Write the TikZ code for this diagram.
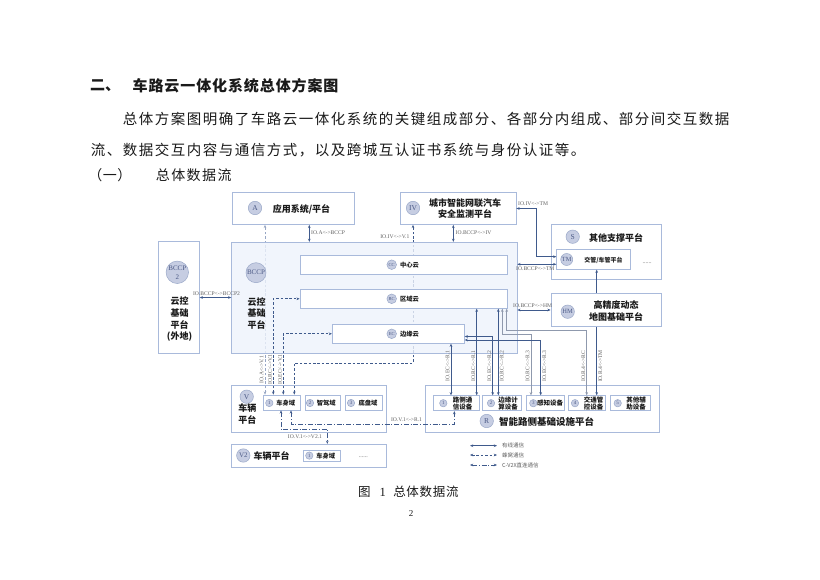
\documentclass[tikz,border=0pt]{standalone}
\usepackage{fontspec}
\setmainfont{Liberation Serif}
\newfontfamily\cjk{Noto Sans CJK SC}
\usetikzlibrary{arrows.meta}
\definecolor{ln}{HTML}{3F5A8C}
\definecolor{bd}{HTML}{A9BADB}
\definecolor{cf}{HTML}{C6CDE2}
\definecolor{cb}{HTML}{9AA8C8}
\definecolor{ct}{HTML}{4B5985}
\definecolor{bf}{HTML}{EEF3FC}
\definecolor{lb}{HTML}{606060}
\definecolor{gw}{HTML}{8F99AD}
\definecolor{lt}{HTML}{97A6C4}
\definecolor{tx}{HTML}{1A1A1A}
\makeatletter
\newcommand\pitched[2]{\@tfor\pc@:=#2\do{\makebox[#1]{\pc@}}}
\makeatother
\begin{document}
\begin{tikzpicture}[x=1pt,y=-1pt,
  >={Stealth[length=3.2pt,width=2.6pt]},
  box/.style={draw=bd, line width=0.7pt, fill=white, inner sep=0pt, rectangle},
  bigc/.style={circle, draw=cb, fill=cf, line width=0.5pt, inner sep=0pt, minimum size=13.4pt, text=ct, font=\fontsize{7.5}{8}\selectfont},
  midc/.style={bigc, minimum size=20pt, font=\fontsize{7}{7.5}\selectfont, align=center},
  smc/.style={bigc, minimum size=9.6pt, font=\fontsize{4.6}{5}\selectfont},
  numc/.style={bigc, minimum size=7.4pt, font=\fontsize{5}{5}\selectfont},
  ttl/.style={font=\cjk\bfseries\fontsize{9}{11.5}\selectfont, align=center, inner sep=0pt, text=tx},
  sub/.style={font=\cjk\bfseries\fontsize{6.3}{7}\selectfont, align=center, inner sep=0pt, text=tx},
  dev/.style={font=\cjk\bfseries\fontsize{6.5}{7}\selectfont, align=center, inner sep=0pt, text=tx},
  lab/.style={font=\fontsize{5.6}{6}\selectfont, text=lb, inner sep=0pt},
  wire/.style={draw=ln, line width=0.6pt, <->},
  cell/.style={wire, dash pattern=on 2.6pt off 1.8pt},
  vtx/.style={wire, dash pattern=on 5pt off 1.8pt on 1pt off 1.8pt},
  gwire/.style={wire, draw=gw, line width=0.9pt},
  dots/.style={font=\fontsize{6}{6}\selectfont, text=lb, inner sep=0pt},
  body/.style={font=\cjk\fontsize{14.5}{15}\selectfont, text=tx, inner sep=0pt, anchor=west}
]
\fill[white] (0,0) rectangle (820,580);
\useasboundingbox (0,0) rectangle (820,580);

% ---------- page text ----------
\node[body, font=\cjk\bfseries\fontsize{15}{15}\selectfont] (h1) at (90,86) {二、};
\node[body, font=\cjk\bfseries\fontsize{15}{15}\selectfont] (h2) at (132,86) {\pitched{15.9pt}{车路云一体化系统总体方案图}};
\node[body] (p1) at (122,119) {\pitched{16pt}{总体方案图明确了车路云一体化系统的关键组成部分、各部分内组成、部分间交互数据}};
\node[body] (p2) at (90,150) {\pitched{16pt}{流、数据交互内容与通信方式，以及跨城互认证书系统与身份认证等。}};
\node[body, font=\cjk\fontsize{14}{14}\selectfont] (s1) at (88,175) {\pitched{14.5pt}{（一）}};
\node[body, font=\cjk\fontsize{14}{14}\selectfont] (s2) at (155,175) {\pitched{15.4pt}{总体数据流}};
\node[body, font=\cjk\fontsize{12.5}{13}\selectfont] (cap) at (358,492) {图\hspace{9pt}{\rmfamily 1}\hspace{7pt}\pitched{13.2pt}{总体数据流}};
\node[font=\fontsize{9}{9}\selectfont, text=tx, inner sep=0pt] (pg) at (411,514) {2};

% ---------- column coordinates ----------
\coordinate (x265) at (265,0);
\coordinate (x273) at (273.3,0);
\coordinate (x283) at (283.3,0);
\coordinate (x294) at (294.3,0);
\coordinate (x281) at (281,0);
\coordinate (x291) at (291,0);
\coordinate (x309) at (309.3,0);
\coordinate (x327) at (327.3,0);
\coordinate (x413) at (413,0);
\coordinate (x451) at (451,0);
\coordinate (x453) at (453.3,0);
\coordinate (x454) at (454.3,0);
\coordinate (x477) at (476.7,0);
\coordinate (x493) at (492.7,0);
\coordinate (x498) at (498.3,0);
\coordinate (x502) at (502.3,0);
\coordinate (x507) at (506.7,0);
\coordinate (x531) at (531,0);
\coordinate (x541) at (540.7,0);
\coordinate (x587) at (586.7,0);
\coordinate (x597) at (596.7,0);

% ---------- top boxes ----------
\node[box, minimum width=122pt, minimum height=32pt] (A) at (293,208.5) {};
\node[box, minimum width=116pt, minimum height=32pt] (IV) at (458,208.5) {};

% ---------- vehicle boxes ----------
\node[box, minimum width=154.3pt, minimum height=47.3pt] (V) at (308.8,408.7) {};
\node[box, minimum width=36.7pt, minimum height=15pt] (Vd1) at (281.7,402.5) {};
\node[box, minimum width=35.7pt, minimum height=15pt] (Vd2) at (322.8,402.5) {};
\node[box, minimum width=37.7pt, minimum height=15pt] (Vd3) at (363.8,402.5) {};
\node[box, minimum width=154.3pt, minimum height=23pt] (V2) at (308.8,455.8) {};
\node[box, minimum width=36.7pt, minimum height=11pt] (V2d1) at (321.7,455.5) {};

% ---------- lines under the cloud platform ----------
\draw[cell, draw=lt] (x265 |- Vd1.north) -- (x265 |- A.south);
\draw[cell] (x294 |- Vd1.north) -- (294.3,363) -- (413,363) -- (x413 |- IV.south);

% ---------- cloud platform ----------
\node[box, fill=bf, fill opacity=0.8, minimum width=285.3pt, minimum height=111pt] (BCCP) at (374.3,297.8) {};
\node[box, minimum width=207.7pt, minimum height=19.3pt] (CC) at (403.8,264.7) {};
\node[box, minimum width=207.7pt, minimum height=19pt] (RC) at (403.8,298.8) {};
\node[box, minimum width=132pt, minimum height=19pt] (EC) at (398.3,333.8) {};
\node[box, minimum width=41pt, minimum height=111.6pt] (BCCP2) at (178.8,297.5) {};

% ---------- support platforms ----------
\node[box, minimum width=110pt, minimum height=55pt] (S) at (606,251.5) {};
\node[box, minimum width=74pt, minimum height=20pt] (TM) at (593.7,259.3) {};

% ---------- roadside platform ----------
\node[box, minimum width=234.3pt, minimum height=47.3pt] (R) at (542.2,408.7) {};
\node[box, minimum width=45.7pt, minimum height=15pt] (R1) at (456.1,403.2) {};
\node[box, minimum width=39pt, minimum height=15pt] (R2) at (502.2,403.2) {};
\node[box, minimum width=37.3pt, minimum height=15pt] (R3) at (545.3,403.2) {};
\node[box, minimum width=37.4pt, minimum height=15pt] (R4) at (587,403.2) {};
\node[box, minimum width=40pt, minimum height=15pt] (R5) at (630.7,403.2) {};

\draw[wire] (x597 |- R4.north) -- (x597 |- TM.south);
\node[box, minimum width=110.7pt, minimum height=33.4pt] (HM) at (606.3,310) {};

% ---------- circles and titles ----------
\node[bigc] (Ac) at (255,208) {A};
\node[ttl] (At) at (301.5,209) {应用系统/平台};
\node[bigc] (IVc) at (413,208) {IV};
\node[ttl] (IVt) at (465,208.5) {城市智能网联汽车\\安全监测平台};
\node[bigc] (Sc) at (572.7,236.7) {S};
\node[ttl] (St) at (616,237.5) {其他支撑平台};
\node[bigc, minimum size=12pt, font=\fontsize{6.3}{6.5}\selectfont] (TMc) at (566.7,259.5) {TM};
\node[sub, font=\cjk\bfseries\fontsize{6}{6.5}\selectfont] (TMt) at (603.5,260) {交管/车管平台};
\node[dots] (Sd) at (647,263) {......};
\node[bigc, font=\fontsize{6.5}{7}\selectfont] (HMc) at (567.7,311.7) {HM};
\node[ttl] (HMt) at (616,311) {高精度动态\\地图基础平台};

\node[midc] (BCCPc) at (256,272.7) {BCCP};
\node[ttl, font=\cjk\bfseries\fontsize{9}{11.7}\selectfont] (BCCPt) at (256.7,313.3) {云控\\基础\\平台};
\node[midc, font=\fontsize{7}{9}\selectfont] (BCCP2c) at (177.3,272.3) {BCCP\\2};
\node[ttl, font=\cjk\bfseries\fontsize{9}{11.7}\selectfont] (BCCP2t) at (179.5,319.2) {云控\\基础\\平台\\(外地)};

\node[smc] (CCc) at (391.7,264.7) {CC};
\node[sub] (CCt) at (409.5,264.7) {中心云};
\node[smc] (RCc) at (391.7,298.8) {RC};
\node[sub] (RCt) at (409.5,298.8) {区域云};
\node[smc] (ECc) at (391.7,333.8) {EC};
\node[sub] (ECt) at (409.5,333.8) {边缘云};

\node[bigc] (Vc) at (246.7,396.7) {V};
\node[ttl] (Vt) at (247.3,414.2) {车辆\\平台};
\node[numc] (Vd1c) at (269.3,403) {1};
\node[sub] (Vd1t) at (285.8,403) {车身域};
\node[numc] (Vd2c) at (310,403) {2};
\node[sub] (Vd2t) at (326.3,403) {智驾域};
\node[numc] (Vd3c) at (351,403) {3};
\node[sub] (Vd3t) at (368,403) {底盘域};
\node[bigc, font=\fontsize{7}{7}\selectfont] (V2c) at (243.3,455.5) {V2};
\node[ttl] (V2t) at (271.7,455.7) {车辆平台};
\node[numc] (V2d1c) at (309.3,455.6) {1};
\node[sub] (V2d1t) at (325.8,455.6) {车身域};
\node[dots] (V2d) at (363.3,457.5) {......};

\node[bigc] (Rc) at (486.7,421) {R};
\node[ttl, font=\cjk\bfseries\fontsize{9.5}{10}\selectfont] (Rt) at (546.7,421.5) {智能路侧基础设施平台};
\node[numc] (R1c) at (443.3,403.2) {1};
\node[dev] (R1t) at (462.5,403.2) {路侧通\\信设备};
\node[numc] (R2c) at (491,403.2) {2};
\node[dev] (R2t) at (508,403.2) {边缘计\\算设备};
\node[numc] (R3c) at (533.3,403.2) {3};
\node[dev] (R3t) at (550,403.2) {感知设备};
\node[numc] (R4c) at (575,403.2) {4};
\node[dev] (R4t) at (593.5,403.2) {交通管\\控设备};
\node[numc] (R5c) at (617.7,403.2) {5};
\node[dev] (R5t) at (636,403.2) {其他辅\\助设备};

% ---------- connectors ----------
\draw[wire] (x309 |- A.south) -- (x309 |- BCCP.north);
\draw[wire] (x453 |- IV.south) -- (x453 |- BCCP.north);
\draw[wire] (IV.east) -- ++(19.7,0) |- ([yshift=2.6pt]TM.west);
\coordinate (tmB) at ([yshift=-5pt]TM.west);
\draw[wire] (BCCP.east |- tmB) -- (tmB);
\draw[wire] (BCCP.east |- HM.west) -- (HM.west);
\draw[wire] (BCCP2.east) -- (BCCP.west |- BCCP2.east);
\draw[cell] (x273 |- Vd1.north) |- (RC.west);
\draw[cell] (x283 |- Vd1.north) |- (EC.west);
\draw[vtx] (x291 |- Vd1.south) -- (291,424.3) -- (454.3,424.3) -- (x454 |- R1.south);
\draw[vtx] (x281 |- Vd1.south) -- (281,429.3) -- (327.3,429.3) -- (x327 |- V2.north);
\draw[wire] (x451 |- R1.north) -- (x451 |- EC.south);
\draw[wire] (x477 |- R1.north) -- (x477 |- RC.south);
\draw[wire] (x493 |- R2.north) |- ([yshift=-2.7pt]EC.east);
\draw[wire] (x498 |- R2.north) -- (x498 |- RC.south);
\draw[gwire] (x531 |- R3.north) -- (531,334) -- (502.3,334) -- (x502 |- RC.south);
\draw[wire] (x541 |- R3.north) |- ([yshift=-6.2pt]EC.east);
\draw[gwire] (x587 |- R4.north) -- (586.7,330) -- (506.7,330) -- (x507 |- RC.south);

% ---------- connector labels ----------
\node[lab, anchor=west] (l1) at (311,233) {IO.A<->BCCP};
\node[lab, anchor=west] (l2) at (455.5,233) {IO.BCCP<->IV};
\node[lab, anchor=east] (l3) at (409.5,236.5) {IO.IV<->V.1};
\node[lab, anchor=west] (l4) at (518,204) {IO.IV<->TM};
\node[lab, anchor=west] (l5) at (516,268.5) {IO.BCCP<->TM};
\node[lab, anchor=west] (l6) at (513,306) {IO.BCCP<->HM};
\node[lab] (l7) at (216.5,293.3) {IO.BCCP<->BCCP2};
\node[lab] (l8) at (406.5,419.5) {IO.V.1<->R.1};
\node[lab] (l9) at (305,437) {IO.V.1<->V2.1};
\node[lab, rotate=90] (v1) at (261.5,369.5) {IO.A<->V.1};
\node[lab, rotate=90] (v2) at (270,369.5) {IO.RC<->V.1};
\node[lab, rotate=90] (v3) at (280,369.5) {IO.EC<->V.1};
\node[lab, rotate=90] (r1) at (447.5,366) {IO.EC<->R.1};
\node[lab, rotate=90] (r2) at (473.2,366) {IO.RC<->R.1};
\node[lab, rotate=90] (r3) at (489.2,366) {IO.EC<->R.2};
\node[lab, rotate=90] (r4) at (501.8,366) {IO.RC<->R.2};
\node[lab, rotate=90] (r5) at (527.5,366) {IO.RC<->R.3};
\node[lab, rotate=90] (r6) at (544.3,366) {IO.EC<->R.3};
\node[lab, rotate=90] (r7) at (583.3,366) {IO.R.4<->RC};
\node[lab, rotate=90] (r8) at (600.2,366) {IO.R.4<->TM};

% ---------- legend ----------
\coordinate (g1a) at (470,445.7); \coordinate (g1b) at (497,445.7);
\coordinate (g2a) at (470,455);   \coordinate (g2b) at (497,455);
\coordinate (g3a) at (470,465);   \coordinate (g3b) at (497,465);
\draw[wire] (g1a) -- (g1b);
\draw[cell] (g2a) -- (g2b);
\draw[vtx] (g3a) -- (g3b);
\node[lab, font=\cjk\fontsize{5.5}{6}\selectfont, anchor=west] (g1t) at (502,445.7) {有线通信};
\node[lab, font=\cjk\fontsize{5.5}{6}\selectfont, anchor=west] (g2t) at (502,455) {蜂窝通信};
\node[lab, font=\cjk\fontsize{5.5}{6}\selectfont, anchor=west] (g3t) at (502,465) {C-V2X直连通信};
\end{tikzpicture}
\end{document}
